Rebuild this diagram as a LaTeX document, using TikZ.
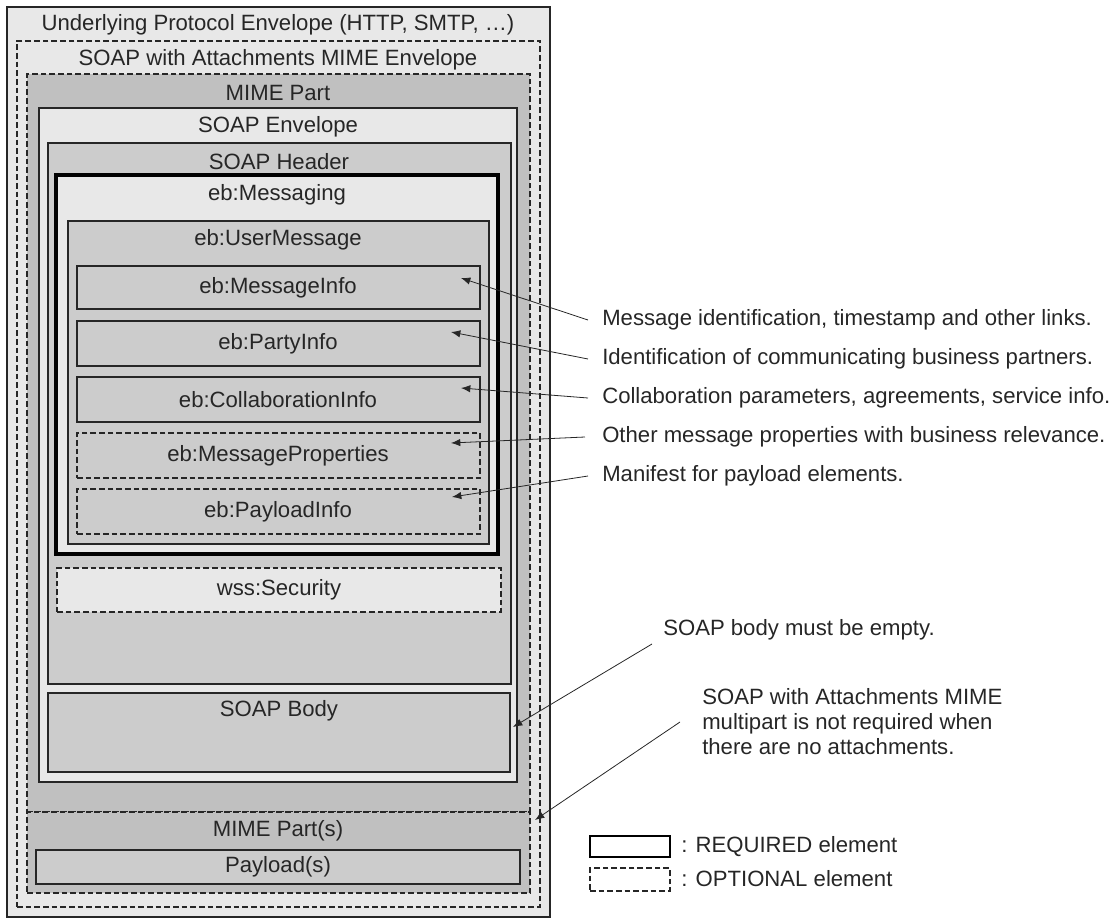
\documentclass[tikz,border=0pt]{standalone}
\usepackage{fontspec}
\setmainfont{Liberation Sans}
\usetikzlibrary{fit,arrows.meta}
\definecolor{lg}{HTML}{E8E8E8}
\definecolor{dg}{HTML}{C0C0C0}
\definecolor{mg}{HTML}{CCCCCC}
\definecolor{edge}{HTML}{262626}
\definecolor{txt}{HTML}{262626}
\begin{document}
\begin{tikzpicture}[x=0.75pt,y=-0.75pt,
  box/.style={draw=edge, line width=0.8pt, inner sep=0pt, outer sep=0pt},
  dbox/.style={box, dash pattern=on 4.2pt off 2.3pt},
  reqbox/.style={box, draw=black, line width=2.6pt},
  lbl/.style={text=txt, font=\fontsize{16.6}{19}\selectfont, inner sep=0pt},
  note/.style={lbl, anchor=west},
  arr/.style={draw=edge, line width=0.6pt, -{Latex[length=7pt,width=5.5pt]}}]
\useasboundingbox (0,0) rectangle (1118,920);

% containers
\node[box, fill=lg, fit={(7,7) (550,917)}] (outer) {};
\node[dbox, fill=lg, fit={(17,41) (540,907)}] (swa) {};
\node[dbox, fill=dg, fit={(27,74) (530,812)}] (mime) {};
\node[dbox, fill=dg, fit={(27,812) (530,893)}] (mimes) {};
\node[box, fill=lg, fit={(39,108) (517,782)}] (env) {};
\node[box, fill=mg, fit={(48,143) (511,684)}] (hdr) {};
\node[reqbox, fill=lg, fit={(56,175) (498,554)}] (msg) {};
\node[box, fill=mg, fit={(68,221) (489,544)}] (um) {};
\node[box, fill=mg, fit={(77,266) (480,309)}] (mi) {};
\node[box, fill=mg, fit={(77,321) (480,366)}] (pi) {};
\node[box, fill=mg, fit={(77,377) (480,422)}] (ci) {};
\node[dbox, fill=mg, fit={(77,433) (480,478)}] (mp) {};
\node[dbox, fill=mg, fit={(77,489) (480,534)}] (pl) {};
\node[dbox, fill=lg, fit={(57,568) (501,612)}] (wss) {};
\node[box, fill=mg, fit={(48,693) (510,772)}] (body) {};
\node[box, fill=mg, fit={(36,850) (520,884)}] (pay) {};

% titles
\node[lbl] (t-outer) at (278,25) {Underlying Protocol Envelope (HTTP, SMTP, …)};
\node[lbl] (t-swa) at (278,60) {SOAP with Attachments MIME Envelope};
\node[lbl] (t-mime) at (278,93) {MIME Part};
\node[lbl] (t-env) at (278,127) {SOAP Envelope};
\node[lbl] (t-hdr) at (279,162) {SOAP Header};
\node[lbl] (t-msg) at (277,195) {eb:Messaging};
\node[lbl] (t-um) at (278,240) {eb:UserMessage};
\node[lbl] (t-mi) at (278,288) {eb:MessageInfo};
\node[lbl] (t-pi) at (278,344) {eb:PartyInfo};
\node[lbl] (t-ci) at (278,400) {eb:CollaborationInfo};
\node[lbl] (t-mp) at (278,456) {eb:MessageProperties};
\node[lbl] (t-pl) at (278,512) {eb:PayloadInfo};
\node[lbl] (t-wss) at (279,590) {wss:Security};
\node[lbl] (t-body) at (279,711) {SOAP Body};
\node[lbl] (t-mimes) at (278,831) {MIME Part(s)};
\node[lbl] (t-pay) at (278,867) {Payload(s)};

% notes
\node[note] (n1) at (602,320) {Message identification, timestamp and other links.};
\node[note] (n2) at (602,359) {Identification of communicating business partners.};
\node[note] (n3) at (602,398) {Collaboration parameters, agreements, service info.};
\node[note] (n4) at (602,437) {Other message properties with business relevance.};
\node[note] (n5) at (602,476) {Manifest for payload elements.};
\node[note] (n6) at (663,630) {SOAP body must be empty.};
\node[note, align=left, font=\fontsize{16.6}{18.8}\selectfont] (n7) at (702,722) {SOAP with Attachments MIME\\multipart is not required when\\there are no attachments.};

% arrow ends
\coordinate (s1) at (588,320);
\coordinate (s2) at (588,359);
\coordinate (s3) at (588,398);
\coordinate (s4) at (585,437);
\coordinate (s5) at (588,476);
\coordinate (s6) at (652,644);
\coordinate (s7) at (680,722);
\coordinate (e1) at (461,278);
\coordinate (e2) at (451,332);
\coordinate (e3) at (461,388);
\coordinate (e4) at (451,443);
\coordinate (e5) at (452,497);
\coordinate (e6) at (513,727);
\coordinate (e7) at (535,820);
\draw[arr] (s1) -- (e1);
\draw[arr] (s2) -- (e2);
\draw[arr] (s3) -- (e3);
\draw[arr] (s4) -- (e4);
\draw[arr] (s5) -- (e5);
\draw[arr] (s6) -- (e6);
\draw[arr] (s7) -- (e7);

% legend
\node[reqbox, fill=white, line width=2.1pt, fit={(590,836) (670,857)}] (lreq) {};
\node[dbox, fill=white, fit={(590,868) (670,891)}] (lopt) {};
\node[note] (lreqt) at (681,847) {: REQUIRED element};
\node[note] (loptt) at (681,879) {: OPTIONAL element};
\end{tikzpicture}
\end{document}
